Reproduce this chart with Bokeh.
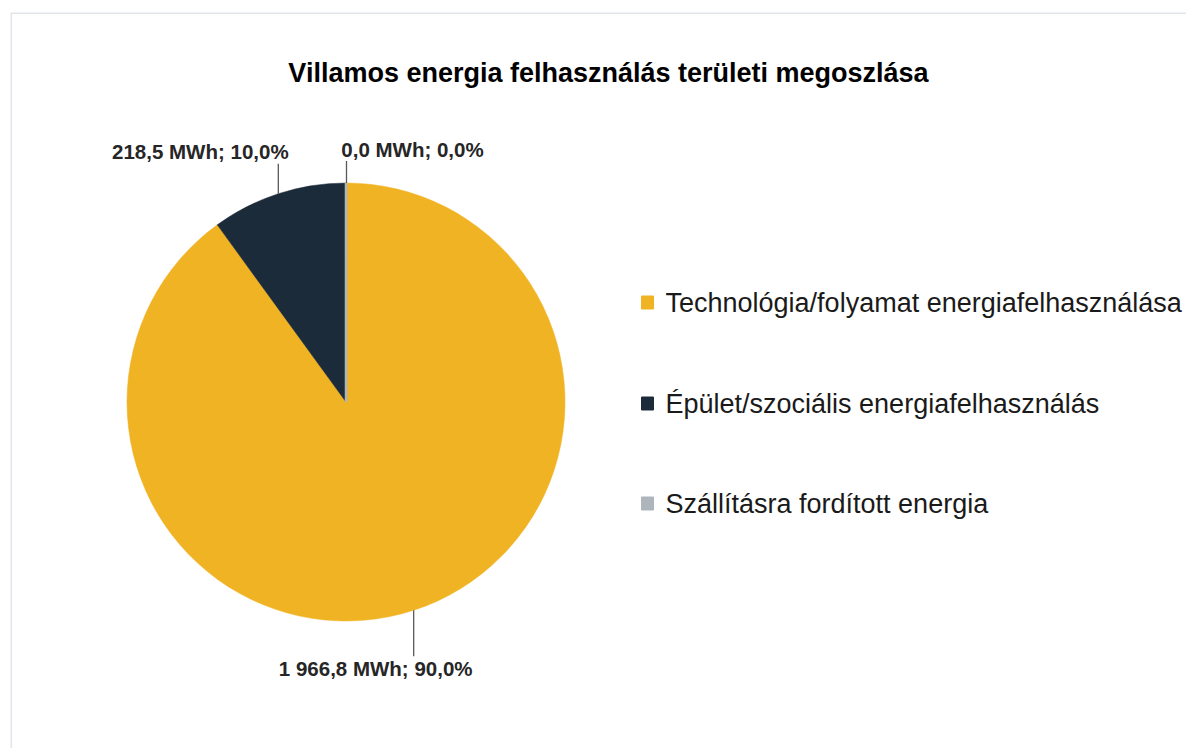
import math
from bokeh.plotting import figure
from bokeh.models import Range1d
from bokeh.core.properties import value
from bokeh.embed import file_html
from bokeh.resources import INLINE

# ---- data ----
categories = ["Technológia/folyamat energiafelhasználása",
              "Épület/szociális energiafelhasználás",
              "Szállításra fordított energia"]
values_mwh = [1966.8, 218.5, 0.04]
colors = ["#F0B323", "#1C2B3A", "#AEB5BC"]
title_text = "Villamos energia felhasználás területi megoszlása"

# ---- layout (screen pixel coordinates, y negated) ----
W, H = 1186, 748
p = figure(width=W, height=H, output_backend="svg", toolbar_location=None,
           x_range=Range1d(10, 1186), y_range=Range1d(-748, -12),
           min_border_left=10, min_border_top=12, min_border_right=0, min_border_bottom=0)
p.axis.visible = False
p.grid.visible = False
p.outline_line_color = None
p.background_fill_color = "white"
p.border_fill_color = "white"

# chart-area border (only left and top edges are inside the window)
p.line(x=[10.5, 10.5, 1186], y=[-748, -12.5, -12.5], line_color="#D9DDE3", line_width=1.5)

cx, cy, R = 345.5, -401.5, 219
total = sum(values_mwh)
cum = 0.0
mids = []
for v, c in zip(values_mwh, colors):
    f0 = cum / total
    f1 = (cum + v) / total
    cum += v
    start = math.pi / 2 - f1 * 2 * math.pi
    end = math.pi / 2 - f0 * 2 * math.pi
    p.wedge(x=cx, y=cy, radius=R, start_angle=start, end_angle=end,
            fill_color=c, line_color=c, line_width=(2.5 if v / total < 0.01 else 0.5))
    mids.append(math.pi / 2 - (f0 + f1) / 2 * 2 * math.pi)

def fmt(v):
    return f"{v:,.1f}".replace(",", " ").replace(".", ",")

label_cfg = [
    (-1, 46, -38),
    (+1, 30, -78),
    (+1, 22, 66),
]
for i, (v, m) in enumerate(zip(values_mwh, mids)):
    ex = cx + R * math.cos(m)
    ey = cy + R * math.sin(m)
    if i == 2:
        ex, ey = cx + 0.5, cy + R
    d, L, off = label_cfg[i]
    ly = ey + d * L
    p.line(x=[ex, ex], y=[ey, ly], line_color="#595959", line_width=1.3)
    pct = v / total * 100
    txt = f"{fmt(v)} MWh; {pct:.1f}%".replace(".", ",")
    p.text(x=[ex + off], y=[ly + d * 12], text=[txt], text_align="center",
           text_baseline="middle", text_font=value("Liberation Sans"),
           text_font_style="bold", text_font_size="20.5px", text_color="#262626")

p.text(x=[608], y=[-72], text=[title_text], text_align="center", text_baseline="middle",
       text_font=value("Liberation Sans"), text_font_style="bold",
       text_font_size="27px", text_color="#000000")

leg_y = [-302, -403, -503]
for name, c, yy in zip(categories, colors, leg_y):
    p.rect(x=[647], y=[yy], width=12, height=13, fill_color=c, line_color=c)
    p.text(x=[665], y=[yy], text=[name], text_align="left", text_baseline="middle",
           text_font=value("Liberation Sans"), text_font_size="27px",
           text_color="#1A1A1A")

open("out.html", "w").write(file_html(p, INLINE))
